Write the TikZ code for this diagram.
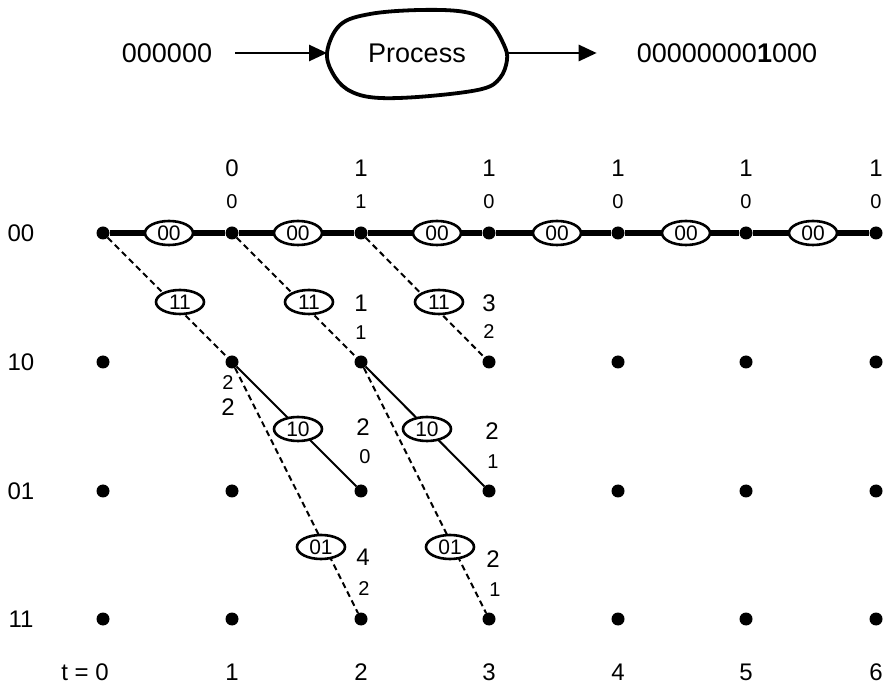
\documentclass[tikz,border=0pt]{standalone}
\usepackage{fontspec}
\setmainfont{Liberation Sans}
\usetikzlibrary{arrows.meta,shapes.geometric}
\begin{document}
\begin{tikzpicture}[x=1pt,y=-1pt,
 dot/.style={circle,fill=black,inner sep=0,minimum size=13pt},
 lab/.style={inner sep=0,font=\fontsize{24pt}{24pt}\selectfont},
 sml/.style={inner sep=0,font=\fontsize{20pt}{20pt}\selectfont},
 oval/.style={ellipse,draw,line width=2.6pt,fill=white,minimum width=48pt,minimum height=24pt,inner sep=0,font=\fontsize{21pt}{21pt}\selectfont},
 big/.style={inner sep=0,font=\fontsize{27pt}{27pt}\selectfont},
 pathzero/.style={line width=5.5pt},
 dsh/.style={line width=2pt,dash pattern=on 6pt off 4pt},
 sld/.style={line width=2pt},
 arr/.style={line width=2.7pt,-{Triangle[length=18pt,width=16pt]}}
]
\useasboundingbox (0,0) rectangle (887,684);
% top process
\node[big] (in) at (167,53) {000000};
\node[big] (proc) at (417,53) {Process};
\node[big] (out) at (727,53) {00000000\textbf{1}000};
\coordinate (pl) at (327,53);
\coordinate (pr) at (507,53);
\draw[line width=3.8pt] plot[smooth cycle,tension=0.6] coordinates {(327,53) (340,25) (370,14) (420,10) (465,12) (490,23) (504,45) (507,60) (500,78) (482,89) (430,96) (380,98) (352,92) (335,77)};
\draw[arr] ([xshift=23pt]in.east) -- (pl);
\draw[arr] (pr) -- ([xshift=-40pt]out.west);
% trellis dots
\foreach \c/\x in {0/103,1/232,2/361,3/489,4/618,5/746,6/876}{
  \foreach \r/\y in {a/233,b/362,c/491,d/619}{
    \node[dot] (n\c\r) at (\x,\y) {};
  }
}
% row labels
\node[lab] (ra) at (21,233) {00};
\node[lab] (rb) at (21,362) {10};
\node[lab] (rc) at (21,491) {01};
\node[lab] (rd) at (21,619) {11};
% time labels
\node[lab] (t0) at (85,672) {t = 0};
\foreach \c/\x in {1/232,2/361,3/489,4/618,5/746,6/876}{
  \node[lab] (t\c) at (\x,672) {\c};
}
% top labels
\foreach \c/\x/\b/\s in {1/232/0/0,2/361/1/1,3/489/1/0,4/618/1/0,5/746/1/0,6/876/1/0}{
  \node[lab] (tb\c) at (\x,168) {\b};
  \node[sml] (ts\c) at (\x,202) {\s};
}
% edges
\draw[pathzero] (n0a) -- (n1a);
\draw[pathzero] (n1a) -- (n2a);
\draw[pathzero] (n2a) -- (n3a);
\draw[pathzero] (n3a) -- (n4a);
\draw[pathzero] (n4a) -- (n5a);
\draw[pathzero] (n5a) -- (n6a);
\draw[dsh] (n0a) -- (n1b);
\draw[dsh] (n1a) -- (n2b);
\draw[dsh] (n2a) -- (n3b);
\draw[sld] (n1b) -- (n2c);
\draw[sld] (n2b) -- (n3c);
\draw[dsh] (n1b) -- (n2d);
\draw[dsh] (n2b) -- (n3d);
% ovals
\foreach \i/\x in {1/169,2/298,3/437,4/557,5/686,6/813}{
  \node[oval] (oa\i) at (\x,233) {00};
}
\node[oval] (ob1) at (180,302) {11};
\node[oval] (ob2) at (309,302) {11};
\node[oval] (ob3) at (439,302) {11};
\node[oval] (oc1) at (298,429) {10};
\node[oval] (oc2) at (427,429) {10};
\node[oval] (od1) at (321,547) {01};
\node[oval] (od2) at (450,547) {01};
% metric labels
\node[lab] (m1) at (361,303) {1};
\node[sml] (m2) at (361,333) {1};
\node[lab] (m3) at (489,303) {3};
\node[sml] (m4) at (489,332) {2};
\node[sml] (m5) at (228,383) {2};
\node[lab] (m6) at (228,407) {2};
\node[lab] (m7) at (363,427) {2};
\node[sml] (m8) at (365,457) {0};
\node[lab] (m9) at (492,431) {2};
\node[sml] (m10) at (493,462) {1};
\node[lab] (m11) at (363,557) {4};
\node[sml] (m12) at (364,589) {2};
\node[lab] (m13) at (493,559) {2};
\node[sml] (m14) at (495,590) {1};
\end{tikzpicture}
\end{document}
